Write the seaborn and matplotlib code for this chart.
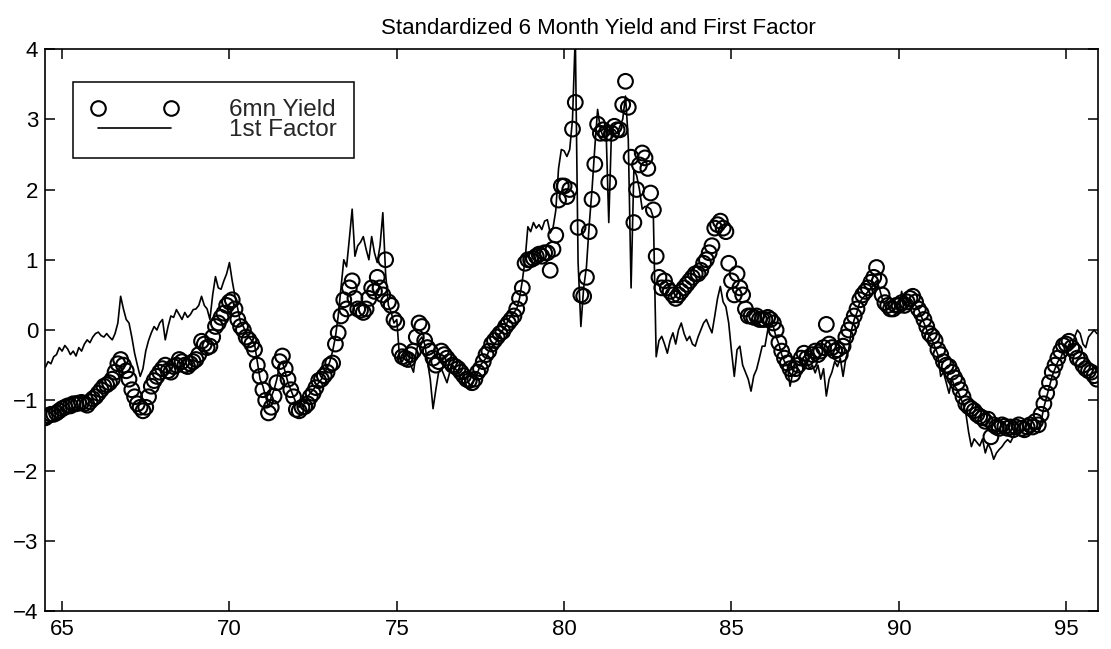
import numpy as np
import pandas as pd
import matplotlib
matplotlib.use("Agg")
import matplotlib.pyplot as plt
from matplotlib.lines import Line2D
import seaborn as sns

# Monthly observations, July 1964 through December 1995 (standardized units)
yield_6mn = [
    # 1964 Jul-Dec
    -1.25, -1.22, -1.2, -1.2, -1.18, -1.15,
    # 1965
    -1.12, -1.1, -1.08, -1.08, -1.05, -1.05, -1.04, -1.03, -1.05, -1.07, -1.02, -0.98,
    # 1966
    -0.95, -0.9, -0.85, -0.8, -0.78, -0.75, -0.7, -0.6, -0.48, -0.42, -0.5, -0.58,
    # 1967
    -0.7, -0.85, -0.95, -1.05, -1.1, -1.15, -1.1, -0.95, -0.8, -0.72, -0.66, -0.6,
    # 1968
    -0.55, -0.5, -0.58, -0.6, -0.52, -0.5, -0.42, -0.45, -0.5, -0.52, -0.48, -0.45,
    # 1969
    -0.42, -0.35, -0.16, -0.2, -0.25, -0.23, -0.1, 0.05, 0.1, 0.18, 0.24, 0.35,
    # 1970
    0.4, 0.43, 0.3, 0.15, 0.05, 0.0, -0.1, -0.14, -0.2, -0.28, -0.5, -0.66,
    # 1971
    -0.85, -1.0, -1.18, -1.1, -0.94, -0.75, -0.45, -0.37, -0.55, -0.7, -0.85, -0.95,
    # 1972
    -1.13, -1.15, -1.1, -1.09, -1.05, -0.95, -0.9, -0.82, -0.72, -0.7, -0.65, -0.6,
    # 1973
    -0.5, -0.47, -0.2, -0.04, 0.2, 0.43, 0.3, 0.6, 0.7, 0.45, 0.3, 0.28,
    # 1974
    0.25, 0.3, 0.45, 0.6, 0.55, 0.75, 0.6, 0.5, 1.0, 0.4, 0.35, 0.15,
    # 1975
    0.1, -0.3, -0.38, -0.4, -0.42, -0.35, -0.3, -0.1, 0.1, 0.05, -0.15, -0.25,
    # 1976
    -0.3, -0.4, -0.5, -0.45, -0.3, -0.35, -0.4, -0.45, -0.5, -0.52, -0.55, -0.6,
    # 1977
    -0.65, -0.7, -0.72, -0.75, -0.7, -0.6, -0.55, -0.45, -0.35, -0.3, -0.2, -0.15,
    # 1978
    -0.1, -0.05, -0.02, 0.05, 0.1, 0.15, 0.2, 0.3, 0.45, 0.6, 0.95, 1.0,
    # 1979
    1.0, 1.02, 1.05, 1.08, 1.05, 1.1, 1.1, 0.85, 1.15, 1.35, 1.85, 2.05,
    # 1980
    2.05, 1.9, 2.0, 2.86, 3.24, 1.46, 0.5, 0.48, 0.75, 1.4, 1.86, 2.36,
    # 1981
    2.93, 2.8, 2.85, 2.8, 2.1, 2.8, 2.9, 2.85, 2.85, 3.21, 3.54, 3.17,
    # 1982
    2.46, 1.53, 2.0, 2.35, 2.52, 2.45, 2.3, 1.95, 1.71, 1.05, 0.75, 0.6,
    # 1983
    0.7, 0.6, 0.55, 0.5, 0.45, 0.5, 0.55, 0.6, 0.65, 0.7, 0.75, 0.8,
    # 1984
    0.8, 0.85, 0.95, 1.0, 1.1, 1.2, 1.45, 1.5, 1.55, 1.45, 1.4, 0.95,
    # 1985
    0.7, 0.5, 0.8, 0.6, 0.5, 0.3, 0.2, 0.2, 0.18, 0.2, 0.15, 0.15,
    # 1986
    0.15, 0.18, 0.15, 0.1, 0.0, -0.18, -0.3, -0.4, -0.47, -0.55, -0.63, -0.55,
    # 1987
    -0.5, -0.4, -0.33, -0.4, -0.45, -0.35, -0.3, -0.35, -0.3, -0.25, 0.08, -0.2,
    # 1988
    -0.25, -0.3, -0.28, -0.35, -0.23, -0.1, 0.0, 0.1, 0.2, 0.3, 0.43, 0.5,
    # 1989
    0.55, 0.6, 0.68, 0.75, 0.89, 0.7, 0.5, 0.39, 0.35, 0.3, 0.3, 0.35,
    # 1990
    0.35, 0.39, 0.35, 0.4, 0.45, 0.48, 0.4, 0.3, 0.24, 0.15, 0.05, -0.05,
    # 1991
    -0.09, -0.15, -0.28, -0.35, -0.45, -0.5, -0.52, -0.6, -0.68, -0.75, -0.85, -0.95,
    # 1992
    -1.05, -1.09, -1.12, -1.15, -1.2, -1.23, -1.25, -1.3, -1.27, -1.52, -1.35, -1.38,
    # 1993
    -1.4, -1.35, -1.37, -1.4, -1.38, -1.42, -1.38, -1.35, -1.4, -1.42, -1.38, -1.35,
    # 1994
    -1.38, -1.3, -1.35, -1.2, -1.05, -0.9, -0.75, -0.6, -0.5, -0.4, -0.3, -0.22,
    # 1995
    -0.2, -0.16, -0.25, -0.3, -0.4, -0.42, -0.5, -0.55, -0.58, -0.6, -0.65, -0.7,
]

first_factor = [
    # 1964 Jul-Dec
    -0.53, -0.45, -0.48, -0.38, -0.35, -0.25,
    # 1965
    -0.3, -0.22, -0.27, -0.35, -0.3, -0.37, -0.25, -0.3, -0.2, -0.14, -0.18, -0.1,
    # 1966
    -0.05, -0.03, -0.08, -0.1, -0.05, -0.1, -0.14, -0.05, 0.1, 0.48, 0.3, 0.15,
    # 1967
    0.1, -0.1, -0.33, -0.5, -0.66, -0.55, -0.3, -0.15, -0.04, 0.05, 0.0, 0.1,
    # 1968
    0.15, -0.14, 0.05, 0.2, 0.18, 0.29, 0.22, 0.15, 0.25, 0.18, 0.22, 0.29,
    # 1969
    0.3, 0.35, 0.48, 0.35, 0.3, 0.15, 0.5, 0.76, 0.6, 0.58, 0.7, 0.8,
    # 1970
    0.96, 0.7, 0.48, 0.3, 0.1, 0.05, -0.05, -0.1, -0.15, -0.2, -0.45, -0.7,
    # 1971
    -0.8, -0.95, -1.1, -0.95, -0.85, -0.7, -0.5, -0.45, -0.6, -0.75, -0.85, -0.95,
    # 1972
    -1.05, -1.1, -1.0, -1.05, -0.95, -0.9, -0.85, -0.8, -0.75, -0.7, -0.6, -0.55,
    # 1973
    -0.45, -0.3, -0.1, 0.2, 0.6, 1.0, 0.9, 1.3, 1.72, 1.05, 1.2, 1.25,
    # 1974
    1.33, 1.15, 1.0, 1.33, 1.1, 0.96, 1.2, 1.67, 0.8, 0.35, 0.25, 0.1,
    # 1975
    0.15, -0.4, -0.45, -0.35, -0.45, -0.5, -0.6, -0.3, -0.15, -0.1, -0.2, -0.45,
    # 1976
    -0.7, -1.12, -0.85, -0.6, -0.55, -0.65, -0.75, -0.6, -0.5, -0.55, -0.6, -0.7,
    # 1977
    -0.65, -0.8, -0.85, -0.75, -0.7, -0.6, -0.5, -0.45, -0.4, -0.3, -0.25, -0.2,
    # 1978
    -0.15, -0.05, 0.0, 0.05, 0.15, 0.2, 0.25, 0.3, 0.45, 0.7, 1.0, 1.47,
    # 1979
    1.4, 1.53, 1.45, 1.5, 1.43, 1.55, 1.57, 1.38, 1.45, 1.7, 2.3, 2.57,
    # 1980
    2.55, 2.47, 2.57, 3.0, 4.2, 0.96, 0.05, 0.6, 0.9, 1.5, 2.0, 2.6,
    # 1981
    3.14, 2.86, 2.75, 2.9, 1.53, 2.86, 2.85, 2.8, 2.9, 3.0, 3.33, 2.71,
    # 1982
    0.6, 2.28, 2.2, 2.0, 1.72, 1.76, 1.75, 1.72, 1.6, -0.38, -0.15, -0.09,
    # 1983
    -0.2, -0.33, -0.15, -0.04, -0.2, 0.0, 0.1, -0.05, -0.15, -0.09, -0.2, -0.23,
    # 1984
    -0.1, 0.0, 0.1, 0.15, 0.05, -0.04, 0.2, 0.45, 0.62, 0.4, 0.33, 0.1,
    # 1985
    -0.3, -0.66, -0.28, -0.23, -0.5, -0.6, -0.7, -0.87, -0.65, -0.56, -0.4, -0.23,
    # 1986
    -0.23, 0.0, 0.1, 0.05, -0.1, -0.2, -0.35, -0.45, -0.5, -0.8, -0.6, -0.47,
    # 1987
    -0.5, -0.47, -0.5, -0.45, -0.55, -0.5, -0.61, -0.5, -0.7, -0.55, -0.94, -0.7,
    # 1988
    -0.6, -0.45, -0.52, -0.4, -0.66, -0.4, -0.28, 0.0, 0.15, 0.25, 0.4, 0.45,
    # 1989
    0.5, 0.55, 0.6, 0.65, 0.7, 0.6, 0.45, 0.35, 0.3, 0.35, 0.3, 0.3,
    # 1990
    0.3, 0.55, 0.35, 0.4, 0.45, 0.4, 0.35, 0.3, 0.2, 0.1, 0.0, -0.1,
    # 1991
    -0.15, -0.25, -0.35, -0.66, -0.6, -0.75, -0.9, -0.7, -0.8, -0.85, -0.95, -1.05,
    # 1992
    -1.18, -1.45, -1.66, -1.55, -1.6, -1.65, -1.55, -1.75, -1.62, -1.7, -1.84, -1.75,
    # 1993
    -1.7, -1.66, -1.6, -1.56, -1.6, -1.52, -1.45, -1.42, -1.45, -1.4, -1.42, -1.38,
    # 1994
    -1.45, -1.4, -1.42, -1.3, -1.1, -0.95, -0.8, -0.65, -0.55, -0.45, -0.4, -0.3,
    # 1995
    -0.3, -0.2, -0.25, -0.1, 0.0, -0.05, -0.2, -0.25, -0.1, -0.05, 0.0, -0.05,
]

x_ticks = [65, 70, 75, 80, 85, 90, 95]
y_ticks = [-4, -3, -2, -1, 0, 1, 2, 3, 4]
title_text = "Standardized 6 Month Yield and First Factor"
legend_labels = ["6mn Yield", "1st Factor"]

# Decimal-year time axis (two-digit years), one entry per month from July 1964
months = pd.period_range("1964-07", periods=len(yield_6mn), freq="M")
t = (months.year - 1900) + (months.month - 1) / 12.0

df = pd.DataFrame({"t": t, "yield": yield_6mn, "factor": first_factor})

sns.set_theme(style="ticks")
plt.rcParams["font.family"] = ["Liberation Sans", "DejaVu Sans"]
plt.rcParams["axes.linewidth"] = 1.2

fig = plt.figure(figsize=(11.11, 6.49), dpi=100)
ax = fig.add_axes([0.0405, 0.0585, 0.9475, 0.866])

sns.scatterplot(data=df, x="t", y="yield", ax=ax, marker="o", s=112,
                facecolors="none", edgecolor="black", linewidth=1.5,
                legend=False, zorder=2)
sns.lineplot(data=df, x="t", y="factor", ax=ax, color="black",
             linewidth=1.2, legend=False, zorder=3)

ax.set_xlim(64.49, 95.94)
ax.set_ylim(-4, 4)
ax.set_xticks(x_ticks)
ax.set_yticks(y_ticks)
ax.set_xlabel("")
ax.set_ylabel("")
ax.tick_params(direction="in", length=7, width=1.1, top=True, right=True,
               labelsize=16, colors="black")
ax.tick_params(axis="x", pad=6)
ax.tick_params(axis="y", pad=5)
for sp in ax.spines.values():
    sp.set_visible(True)
    sp.set_color("black")
    sp.set_linewidth(1.2)

ax.set_title(title_text, fontsize=16, x=0.526, pad=11, color="black")

handles = [
    Line2D([], [], linestyle="none", marker="o", markersize=10.5,
           markerfacecolor="none", markeredgecolor="black", markeredgewidth=1.5),
    Line2D([], [], color="black", linewidth=1.2),
]
leg = ax.legend(handles, legend_labels, loc="upper left",
                bbox_to_anchor=(0.027, 0.941), fontsize=17.5, numpoints=2,
                handlelength=3.6, handletextpad=2.1, labelspacing=-0.08,
                borderpad=0.7, borderaxespad=0.0, frameon=True,
                fancybox=False, framealpha=1.0, edgecolor="black")
leg.get_frame().set_linewidth(1.1)

fig.savefig("out.png", dpi=100, facecolor="white")
